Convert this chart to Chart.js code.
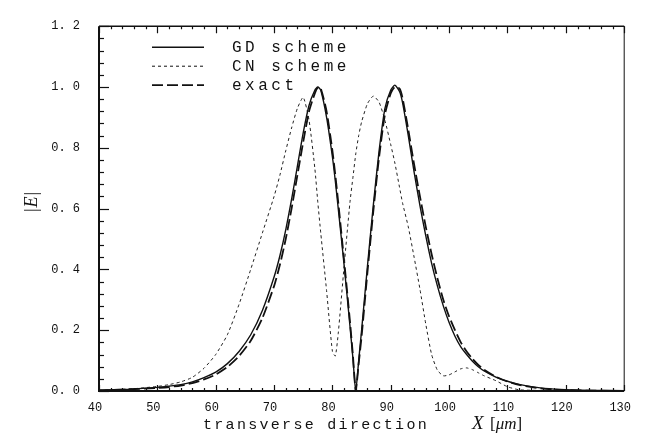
<!DOCTYPE html>
<html><head><meta charset="utf-8">
<script src="https://cdn.jsdelivr.net/npm/chart.js@4"></script>
<style>html,body{margin:0;padding:0;background:#fff}</style>
</head><body>
<canvas id="c" width="645" height="436"></canvas>
<script>
// transverse position X [um]
const xValues = [40,45,50,52,54,56,58,60,62,64,66,68,70,71,72,73,74,75,76,77,77.5,78,79,80,80.5,81,82,83,83.5,84,84.5,85,86,87,88,89,90,90.7,91.5,92,93,94,95,96,97,98,99,100,101,102,103,104,105,106,108,110,112,115,118,120,125,130];
// |E| for each scheme
const gdValues = [0.003,0.006,0.012,0.016,0.021,0.03,0.044,0.062,0.09,0.13,0.185,0.265,0.375,0.445,0.53,0.63,0.74,0.85,0.94,0.99,1.0,0.99,0.9,0.77,0.69,0.6,0.415,0.215,0.11,0.0,0.1,0.2,0.41,0.61,0.79,0.93,0.99,1.006,0.985,0.95,0.84,0.72,0.61,0.51,0.42,0.345,0.28,0.225,0.18,0.145,0.12,0.098,0.08,0.066,0.046,0.032,0.022,0.012,0.006,0.004,0.002,0.001];
const cnValues = [0.002,0.006,0.015,0.021,0.03,0.045,0.075,0.12,0.185,0.285,0.4,0.52,0.64,0.71,0.79,0.865,0.93,0.966,0.89,0.73,0.62,0.52,0.33,0.13,0.115,0.19,0.41,0.62,0.7,0.78,0.84,0.885,0.945,0.97,0.95,0.89,0.81,0.75,0.67,0.62,0.54,0.44,0.335,0.22,0.12,0.068,0.05,0.053,0.063,0.073,0.076,0.07,0.06,0.05,0.034,0.014,0.004,0.002,0.001,0.001,0,0];
const exactValues = [0.002,0.005,0.01,0.013,0.018,0.026,0.038,0.054,0.079,0.115,0.165,0.24,0.345,0.415,0.5,0.6,0.71,0.82,0.92,0.98,0.998,0.995,0.92,0.79,0.71,0.62,0.43,0.23,0.12,0.0,0.09,0.18,0.39,0.59,0.77,0.91,0.98,1.0,0.995,0.965,0.86,0.745,0.64,0.54,0.45,0.37,0.3,0.245,0.2,0.16,0.13,0.106,0.086,0.07,0.047,0.031,0.02,0.01,0.005,0.003,0.001,0.0];
const seriesLabels = ['GD scheme','CN scheme','exact'];
const xTitle = 'transverse direction';
const xVar = 'X';
const xUnit = 'μm';
const yTitleVar = 'E';

const toPts = ys => xValues.map((x,i)=>({x:x,y:ys[i]}));

const MONO = '"Liberation Mono", "DejaVu Sans Mono", monospace';
const SERIF = '"Liberation Serif", "DejaVu Serif", serif';

const decor = {
  id:'decor',
  afterDraw(chart){
    const ctx = chart.ctx, a = chart.chartArea;
    const xs = chart.scales.x, ys = chart.scales.y;
    ctx.save();
    ctx.strokeStyle = '#111';
    ctx.lineCap = 'butt';
    // frame
    ctx.lineWidth = 2;
    ctx.beginPath(); ctx.moveTo(a.left, a.top); ctx.lineTo(a.left, a.bottom); ctx.lineTo(a.right, a.bottom); ctx.stroke();
    ctx.lineWidth = 1.5;
    ctx.beginPath(); ctx.moveTo(a.left, a.top); ctx.lineTo(a.right, a.top); ctx.stroke();
    ctx.lineWidth = 1;
    ctx.beginPath(); ctx.moveTo(a.right, a.top); ctx.lineTo(a.right, a.bottom); ctx.stroke();
    // x ticks (bottom & top), minor every 2
    ctx.lineWidth = 1.2;
    for (let v = 40; v <= 130; v += 2) {
      const px = Math.round(xs.getPixelForValue(v)) + 0.5;
      const major = v % 10 === 0;
      const lb = major ? 6 : 3, lt = major ? 7 : 3;
      ctx.beginPath();
      ctx.moveTo(px, a.bottom); ctx.lineTo(px, a.bottom - lb);
      ctx.moveTo(px, a.top); ctx.lineTo(px, a.top + lt);
      ctx.stroke();
    }
    // y ticks (left), minor every 0.04
    for (let i = 0; i <= 30; i++) {
      const py = Math.round(ys.getPixelForValue(i*0.04)) + 0.5;
      const major = i % 5 === 0;
      ctx.beginPath();
      ctx.moveTo(a.left, py); ctx.lineTo(a.left + (major ? 10 : 5), py);
      ctx.stroke();
    }
    // legend inside plot
    ctx.fillStyle = '#111';
    ctx.textBaseline = 'middle';
    chart.data.datasets.forEach((ds, i) => {
      const y = a.top + 21 + i*19;
      ctx.save();
      ctx.lineWidth = ds.borderWidth;
      ctx.setLineDash(ds.borderDash || []);
      ctx.beginPath(); ctx.moveTo(152, y); ctx.lineTo(204, y); ctx.stroke();
      ctx.restore();
      ctx.font = '16px ' + MONO;
      ctx.letterSpacing = '3.5px';
      ctx.fillText(ds.label, 232, y + 1);
    });
    // x axis title
    ctx.textBaseline = 'alphabetic';
    ctx.font = '15px ' + MONO;
    ctx.letterSpacing = '2.3px';
    ctx.fillText(xTitle, 203, 429);
    ctx.letterSpacing = '0px';
    ctx.font = 'italic 19px ' + SERIF;
    ctx.fillText(xVar, 472, 429);
    let cx = 490;
    ctx.font = '17px ' + SERIF;
    ctx.fillText('[', cx, 429); cx += ctx.measureText('[').width;
    ctx.font = 'italic 17px ' + SERIF;
    ctx.fillText(xUnit, cx, 429); cx += ctx.measureText(xUnit).width;
    ctx.font = '17px ' + SERIF;
    ctx.fillText(']', cx, 429);
    // y axis title |E| rotated
    ctx.save();
    ctx.translate(37, 202);
    ctx.rotate(-Math.PI/2);
    ctx.textBaseline = 'alphabetic';
    ctx.font = 'italic 18px ' + SERIF;
    const wE = ctx.measureText(yTitleVar).width;
    ctx.font = '18px ' + SERIF;
    const wB = ctx.measureText('|').width;
    const total = wE + 2*wB + 2;
    let sx = -total/2;
    ctx.fillText('|', sx, 0); sx += wB + 1;
    ctx.font = 'italic 18px ' + SERIF;
    ctx.fillText(yTitleVar, sx, 0); sx += wE + 1;
    ctx.font = '18px ' + SERIF;
    ctx.fillText('|', sx, 0);
    ctx.restore();
    ctx.restore();
  }
};

new Chart(document.getElementById('c'), {
  type:'line',
  data:{
    datasets:[
      {label:seriesLabels[0], data:toPts(gdValues), borderColor:'#111', borderWidth:1.4, borderDash:[], fill:false},
      {label:seriesLabels[1], data:toPts(cnValues), borderColor:'#222', borderWidth:1, borderDash:[3,3], fill:false},
      {label:seriesLabels[2], data:toPts(exactValues), borderColor:'#111', borderWidth:1.8, borderDash:[11,4], fill:false}
    ]
  },
  options:{
    responsive:false, animation:false, devicePixelRatio:1,
    layout:{padding:{left:0,right:18,top:13,bottom:0}},
    plugins:{legend:{display:false}, tooltip:{enabled:false}},
    elements:{point:{radius:0}, line:{tension:0.2}},
    scales:{
      x:{type:'linear', min:40, max:130,
        afterFit:s=>{s.height=45;},
        grid:{display:false, drawTicks:false}, border:{display:false},
        ticks:{stepSize:10, padding:10, labelOffset:-4, maxRotation:0, autoSkip:false, color:'#111', font:{family:MONO, size:12}}},
      y:{min:0, max:1.2,
        afterFit:s=>{s.width=99;},
        grid:{display:false, drawTicks:false}, border:{display:false},
        ticks:{stepSize:0.2, padding:19, color:'#111', font:{family:MONO, size:12},
          callback:v=>Number(v).toFixed(1).replace('.', '. ')}}
    }
  },
  plugins:[decor]
});
</script>
</body></html>
